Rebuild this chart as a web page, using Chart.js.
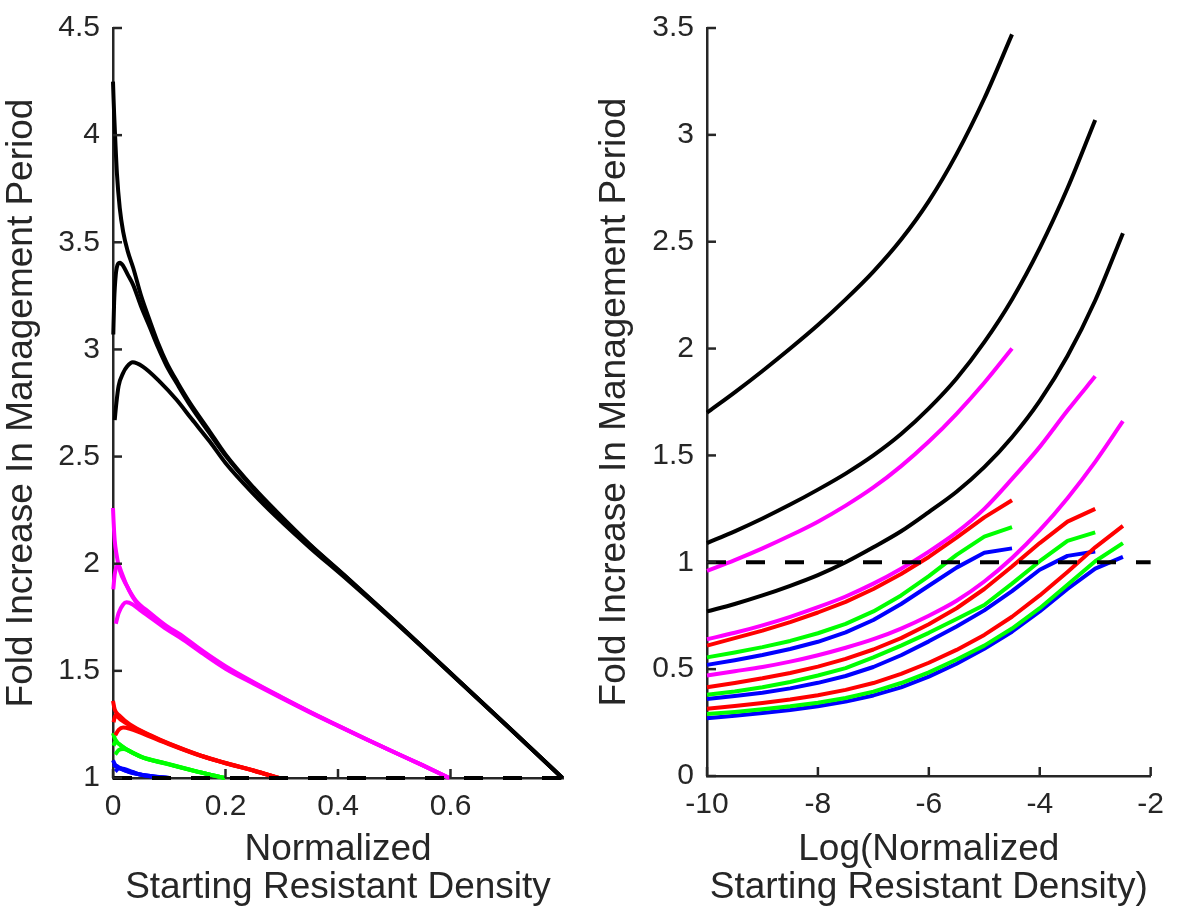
<!DOCTYPE html>
<html>
<head>
<meta charset="utf-8">
<script src="https://cdn.jsdelivr.net/npm/chart.js@4/dist/chart.umd.min.js"></script>
<style>
  html,body{margin:0;padding:0;background:#fff;}
  #wrap{position:relative;width:1178px;height:911px;overflow:hidden;}
  #c1{position:absolute;left:0;top:0;}
  #c2{position:absolute;left:590px;top:0;}
</style>
</head>
<body>
<div id="wrap">
  <canvas id="c1" width="590" height="911"></canvas>
  <canvas id="c2" width="588" height="911"></canvas>
</div>
<script>
// ---------- LEFT PANEL DATA: [x, y] pairs ----------
const leftXTicks = [0, 0.2, 0.4, 0.6];
const leftYTicks = [1, 1.5, 2, 2.5, 3, 3.5, 4, 4.5];

const leftBlack1 = [[0,4.25],[0.001,4.17],[0.002,4.1],[0.004,3.98],[0.007,3.82],[0.012,3.66],[0.018,3.55],[0.026,3.46],[0.036,3.38],[0.05,3.25],[0.066,3.13],[0.08,3.03],[0.095,2.94],[0.115,2.845],[0.137,2.75],[0.17,2.625],[0.2,2.51],[0.25,2.355],[0.29,2.245],[0.35,2.09],[0.41,1.95],[0.5,1.735],[0.6,1.49],[0.7,1.245],[0.799,1.0]];
const leftBlack2 = [[0.0005,3.07],[0.002,3.22],[0.005,3.35],[0.009,3.4],[0.0124,3.405],[0.018,3.39],[0.026,3.35],[0.036,3.3],[0.05,3.2],[0.066,3.1],[0.08,3.01],[0.095,2.925],[0.115,2.835],[0.137,2.74],[0.17,2.615],[0.2,2.505],[0.25,2.35],[0.29,2.24],[0.35,2.087],[0.41,1.948],[0.5,1.734],[0.6,1.49],[0.7,1.245],[0.799,1.0]];
const leftBlack3 = [[0.003,2.67],[0.006,2.75],[0.01,2.83],[0.018,2.89],[0.025,2.92],[0.035,2.94],[0.053,2.92],[0.083,2.85],[0.113,2.765],[0.14,2.675],[0.172,2.57],[0.2,2.47],[0.25,2.325],[0.29,2.22],[0.35,2.075],[0.41,1.94],[0.5,1.73],[0.6,1.488],[0.7,1.244],[0.799,1.0]];

const leftMagenta1 = [[0,2.26],[0.001,2.2],[0.003,2.11],[0.0065,2.04],[0.012,1.97],[0.024,1.9],[0.04,1.83],[0.066,1.77],[0.095,1.71],[0.125,1.66],[0.16,1.592],[0.2,1.522],[0.25,1.447],[0.3,1.377],[0.35,1.309],[0.4,1.245],[0.45,1.182],[0.5,1.12],[0.55,1.06],[0.598,1.0]];
const leftMagenta2 = [[0.0005,1.88],[0.003,1.95],[0.0095,1.995],[0.015,1.96],[0.024,1.9],[0.04,1.825],[0.066,1.765],[0.095,1.705],[0.125,1.655],[0.16,1.587],[0.2,1.517],[0.25,1.444],[0.3,1.375],[0.35,1.308],[0.4,1.244],[0.45,1.181],[0.5,1.12],[0.55,1.06],[0.598,1.0]];
const leftMagenta3 = [[0.005,1.72],[0.01,1.77],[0.018,1.81],[0.024,1.82],[0.035,1.81],[0.05,1.78],[0.066,1.75],[0.095,1.695],[0.125,1.645],[0.16,1.58],[0.2,1.51],[0.25,1.44],[0.3,1.372],[0.35,1.306],[0.4,1.243],[0.45,1.181],[0.5,1.12],[0.55,1.06],[0.598,1.0]];

const leftRed1 = [[0,1.36],[0.003,1.32],[0.012,1.29],[0.03,1.25],[0.066,1.2],[0.1,1.16],[0.155,1.106],[0.2,1.07],[0.25,1.035],[0.295,1.0]];
const leftRed2 = [[0.001,1.26],[0.004,1.29],[0.008,1.285],[0.015,1.27],[0.03,1.245],[0.066,1.198],[0.1,1.159],[0.155,1.105],[0.2,1.07],[0.25,1.035],[0.295,1.0]];
const leftRed3 = [[0.004,1.2],[0.01,1.225],[0.018,1.236],[0.03,1.23],[0.05,1.21],[0.066,1.193],[0.1,1.157],[0.155,1.104],[0.2,1.069],[0.25,1.034],[0.295,1.0]];

const leftGreen1 = [[0,1.21],[0.004,1.18],[0.018,1.144],[0.05,1.1],[0.095,1.068],[0.15,1.03],[0.199,1.0]];
const leftGreen2 = [[0.001,1.15],[0.004,1.17],[0.01,1.16],[0.02,1.14],[0.05,1.099],[0.095,1.067],[0.15,1.03],[0.199,1.0]];
const leftGreen3 = [[0.004,1.11],[0.01,1.13],[0.018,1.135],[0.03,1.125],[0.05,1.098],[0.095,1.066],[0.15,1.029],[0.199,1.0]];

const leftBlue1 = [[0,1.083],[0.004,1.06],[0.012,1.045],[0.03,1.027],[0.048,1.017],[0.075,1.007],[0.1,1.0]];
const leftBlue2 = [[0.001,1.05],[0.004,1.06],[0.01,1.05],[0.02,1.037],[0.048,1.016],[0.075,1.006],[0.1,1.0]];
const leftBlue3 = [[0.004,1.03],[0.01,1.045],[0.02,1.042],[0.035,1.028],[0.05,1.015],[0.075,1.005],[0.1,1.0]];

const leftRef = [[0,1],[0.8,1]];

// ---------- RIGHT PANEL DATA ----------
const rightXTicks = [-10, -8, -6, -4, -2];
const rightYTicks = [0, 0.5, 1, 1.5, 2, 2.5, 3, 3.5];

const xA = [-10,-9.5,-9,-8.5,-8,-7.5,-7,-6.5,-6,-5.5,-5,-4.5];
const xB = [-10,-9.5,-9,-8.5,-8,-7.5,-7,-6.5,-6,-5.5,-5,-4.5,-4,-3.5,-3];
const xC = [-10,-9.5,-9,-8.5,-8,-7.5,-7,-6.5,-6,-5.5,-5,-4.5,-4,-3.5,-3,-2.5];

const blackA   = [1.70,1.795,1.895,2.0,2.11,2.23,2.36,2.51,2.69,2.91,3.17,3.47];
const blackB   = [1.09,1.145,1.205,1.27,1.34,1.415,1.50,1.60,1.72,1.86,2.03,2.23,2.47,2.75,3.07];
const blackC   = [0.77,0.805,0.845,0.89,0.94,1.0,1.07,1.145,1.235,1.33,1.445,1.585,1.755,1.965,2.225,2.54];
const magentaA = [0.96,1.01,1.065,1.125,1.19,1.265,1.35,1.45,1.565,1.695,1.84,2.0];
const magentaB = [0.64,0.67,0.705,0.745,0.79,0.84,0.90,0.97,1.05,1.14,1.25,1.39,1.54,1.71,1.87];
const magentaC = [0.47,0.49,0.51,0.535,0.565,0.60,0.64,0.69,0.75,0.82,0.91,1.02,1.15,1.30,1.47,1.66];
const redA     = [0.61,0.645,0.68,0.72,0.765,0.815,0.875,0.945,1.025,1.115,1.21,1.29];
const redB     = [0.415,0.435,0.457,0.482,0.512,0.548,0.592,0.645,0.71,0.785,0.875,0.98,1.09,1.19,1.25];
const redC     = [0.315,0.328,0.342,0.358,0.378,0.403,0.435,0.478,0.53,0.59,0.66,0.745,0.845,0.955,1.07,1.17];
const greenA   = [0.555,0.578,0.603,0.632,0.668,0.712,0.77,0.845,0.935,1.035,1.12,1.165];
const greenB   = [0.38,0.395,0.415,0.44,0.47,0.505,0.555,0.61,0.67,0.735,0.80,0.90,1.005,1.10,1.14];
const greenC   = [0.29,0.30,0.312,0.326,0.343,0.365,0.395,0.435,0.485,0.545,0.61,0.69,0.785,0.895,1.005,1.09];
const blueA    = [0.52,0.542,0.566,0.594,0.628,0.672,0.73,0.805,0.89,0.975,1.045,1.065];
const blueB    = [0.36,0.374,0.39,0.41,0.436,0.468,0.51,0.565,0.63,0.70,0.775,0.865,0.965,1.03,1.05];
const blueC    = [0.27,0.282,0.295,0.309,0.326,0.348,0.377,0.415,0.465,0.525,0.595,0.675,0.77,0.875,0.97,1.025];

const rightRefX = [-10, -2];
const rightRefY = [1, 1];

// ---------- STYLE ----------
const AX = '#262626';
const FONT = "'Liberation Sans', Arial, Helvetica, sans-serif";
const C = {k:'#000000', m:'#ff00ff', r:'#ff0000', g:'#00ff00', b:'#0000ff'};

function pairs(arr){ return arr.map(p => ({x:p[0], y:p[1]})); }
function zipXY(xs, ys){ return xs.map((x,i) => ({x:x, y:ys[i]})); }

function lineDs(data, color, smooth){
  return {data, borderColor:color, backgroundColor:color, borderWidth:4, pointRadius:0,
    showLine:true, fill:false, clip:false, tension:0,
    cubicInterpolationMode: smooth ? 'monotone' : 'default', borderCapStyle:'butt', borderJoinStyle:'round'};
}
function refDs(data){
  return {data, borderColor:'#000', borderWidth:4, borderDash:[19,20], pointRadius:0,
    showLine:true, fill:false, clip:false, order:-1, borderCapStyle:'butt'};
}

const inTicks = {
  id:'inTicks',
  afterDraw(chart){
    const {ctx, chartArea:a, scales:{x, y}} = chart;
    ctx.save();
    ctx.strokeStyle = AX; ctx.lineWidth = 2.5; ctx.lineCap='butt';
    x.ticks.forEach(t => { const px = x.getPixelForValue(t.value);
      ctx.beginPath(); ctx.moveTo(px, a.bottom); ctx.lineTo(px, a.bottom - 9); ctx.stroke(); });
    y.ticks.forEach(t => { const py = y.getPixelForValue(t.value);
      ctx.beginPath(); ctx.moveTo(a.left, py); ctx.lineTo(a.left + 9, py); ctx.stroke(); });
    ctx.restore();
  }
};

function makeOptions(cfg){
  return {
    responsive:false, animation:false, devicePixelRatio:1,
    layout:{padding:{top:17, right:cfg.padRight, left:0, bottom:0}},
    plugins:{legend:{display:false}, tooltip:{enabled:false}},
    elements:{line:{borderJoinStyle:'round'}},
    scales:{
      x:{type:'linear', min:cfg.xmin, max:cfg.xmax,
        afterBuildTicks: s => { s.ticks = cfg.xticks.map(v => ({value:v})); },
        afterFit: s => { s.height = cfg.xAxisH; },
        grid:{display:true, drawOnChartArea:false, drawTicks:false, color:'rgba(0,0,0,0)'},
        border:{display:true, color:AX, width:2.5},
        ticks:{color:AX, font:{family:FONT, size:30, lineHeight:1.0}, padding:14, maxRotation:0, autoSkip:false,
          callback: v => String(v)},
        title:{display:true, text:cfg.xtitle, color:AX, font:{family:FONT, size:37, lineHeight:1.03}, padding:{top:0, bottom:4}}
      },
      y:{type:'linear', min:cfg.ymin, max:cfg.ymax,
        afterBuildTicks: s => { s.ticks = cfg.yticks.map(v => ({value:v})); },
        afterFit: s => { s.width = cfg.yAxisW; },
        grid:{display:true, drawOnChartArea:false, drawTicks:false, color:'rgba(0,0,0,0)'},
        border:{display:true, color:AX, width:2.5},
        ticks:{color:AX, font:{family:FONT, size:30, lineHeight:1.0}, padding:13, autoSkip:false,
          callback: v => String(v)},
        title:{display:true, text:'Fold Increase In Management Period', color:AX,
          font:{family:FONT, size:37, lineHeight:1.03}, padding:{top:cfg.yTitlePad, bottom:0}}
      }
    }
  };
}

// ---------- LEFT CHART ----------
new Chart(document.getElementById('c1'), {
  type:'scatter',
  data:{datasets:[
    lineDs(pairs(leftBlack1), C.k, true), lineDs(pairs(leftBlack2), C.k, true), lineDs(pairs(leftBlack3), C.k, true),
    lineDs(pairs(leftMagenta1), C.m, true), lineDs(pairs(leftMagenta2), C.m, true), lineDs(pairs(leftMagenta3), C.m, true),
    lineDs(pairs(leftRed1), C.r, true), lineDs(pairs(leftRed2), C.r, true), lineDs(pairs(leftRed3), C.r, true),
    lineDs(pairs(leftGreen1), C.g, true), lineDs(pairs(leftGreen2), C.g, true), lineDs(pairs(leftGreen3), C.g, true),
    lineDs(pairs(leftBlue1), C.b, true), lineDs(pairs(leftBlue2), C.b, true), lineDs(pairs(leftBlue3), C.b, true),
    refDs(pairs(leftRef))
  ]},
  options: makeOptions({padRight:27, xmin:0, xmax:0.8, ymin:1, ymax:4.5, xticks:leftXTicks, yticks:leftYTicks,
    xAxisH:133, yAxisW:113, yTitlePad:3, xtitle:['Normalized','Starting Resistant Density']}),
  plugins:[inTicks]
});

// ---------- RIGHT CHART ----------
new Chart(document.getElementById('c2'), {
  type:'scatter',
  data:{datasets:[
    lineDs(zipXY(xA, blackA), C.k, true), lineDs(zipXY(xB, blackB), C.k, true), lineDs(zipXY(xC, blackC), C.k, true),
    lineDs(zipXY(xA, magentaA), C.m, true), lineDs(zipXY(xB, magentaB), C.m, true), lineDs(zipXY(xC, magentaC), C.m, true),
    lineDs(zipXY(xA, redA), C.r), lineDs(zipXY(xB, redB), C.r), lineDs(zipXY(xC, redC), C.r),
    lineDs(zipXY(xA, greenA), C.g), lineDs(zipXY(xB, greenB), C.g), lineDs(zipXY(xC, greenC), C.g),
    lineDs(zipXY(xA, blueA), C.b), lineDs(zipXY(xB, blueB), C.b), lineDs(zipXY(xC, blueC), C.b),
    refDs(zipXY(rightRefX, rightRefY))
  ]},
  options: makeOptions({padRight:21, xmin:-10, xmax:-2, ymin:0, ymax:3.5, xticks:rightXTicks, yticks:rightYTicks,
    xAxisH:135, yAxisW:117, yTitlePad:6, xtitle:['Log(Normalized','Starting Resistant Density)']}),
  plugins:[inTicks]
});
</script>
</body>
</html>
